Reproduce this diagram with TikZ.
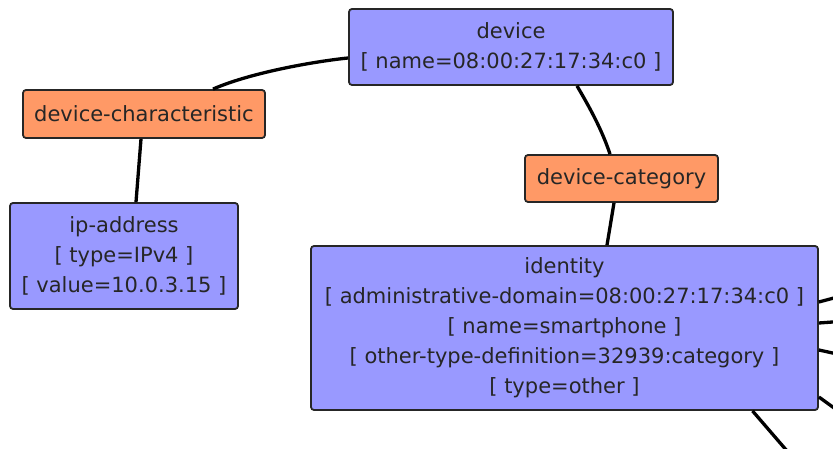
\documentclass[tikz,border=0pt]{standalone}
\usepackage{fontspec}
\setmainfont{DejaVu Sans}
\definecolor{attrblue}{HTML}{9999FF}
\definecolor{relorange}{HTML}{FF9966}
\tikzset{
  attr/.style={draw=black!85, fill=attrblue, rounded corners=3pt, line width=1.8pt,
    align=center, inner sep=0pt, text=black!85, font=\fontsize{21}{30}\selectfont},
  rel/.style={attr, fill=relorange},
  link/.style={line width=3.3pt}
}
\begin{document}
\begin{tikzpicture}[x=1pt,y=-1pt]
  \useasboundingbox (0,0) rectangle (833,449);

  \node[attr, minimum width=324pt, minimum height=76pt] (device) at (511,47)
    {device\\{}[ name=08:00:27:17:34:c0 ]};
  \node[rel, minimum width=242pt, minimum height=48pt] (devchar) at (144,114)
    {device-characteristic};
  \node[attr, minimum width=228pt, minimum height=106pt] (ipaddr) at (124,256)
    {ip-address\\{}[ type=IPv4 ]\\{}[ value=10.0.3.15 ]};
  \node[rel, minimum width=193pt, minimum height=47pt] (devcat) at (621.5,178.5)
    {device-category};
  \node[attr, minimum width=507pt, minimum height=164pt] (identity) at (564.5,328)
    {identity\\{}[ administrative-domain=08:00:27:17:34:c0 ]\\{}[ name=smartphone ]\\{}[ other-type-definition=32939:category ]\\{}[ type=other ]};

  % links running off the page
  \coordinate (out1) at (860,291);
  \coordinate (out2) at (860,320);
  \coordinate (out3) at (860,359);
  \coordinate (out4) at (852,421);
  \coordinate (out5) at (800,466);

  \draw[link] ([yshift=-11pt]device.west) .. controls (318,61) and (252,72) .. ([xshift=69pt]devchar.north);
  \draw[link] ([xshift=66pt]device.south) .. controls (590,108) and (602,130) .. ([xshift=-11.5pt]devcat.north);
  \draw[link] ([xshift=-3pt]devchar.south) -- ([xshift=12pt]ipaddr.north);
  \draw[link] ([xshift=-7.5pt]devcat.south) -- ([xshift=42.5pt]identity.north);

  \draw[link] ([yshift=26pt]identity.east) -- (out1);
  \draw[link] ([yshift=5pt]identity.east) -- (out2);
  \draw[link] ([yshift=-22pt]identity.east) -- (out3);
  \draw[link] ([yshift=-69pt]identity.east) -- (out4);
  \draw[link] ([xshift=188pt]identity.south) -- (out5);
\end{tikzpicture}
\end{document}
